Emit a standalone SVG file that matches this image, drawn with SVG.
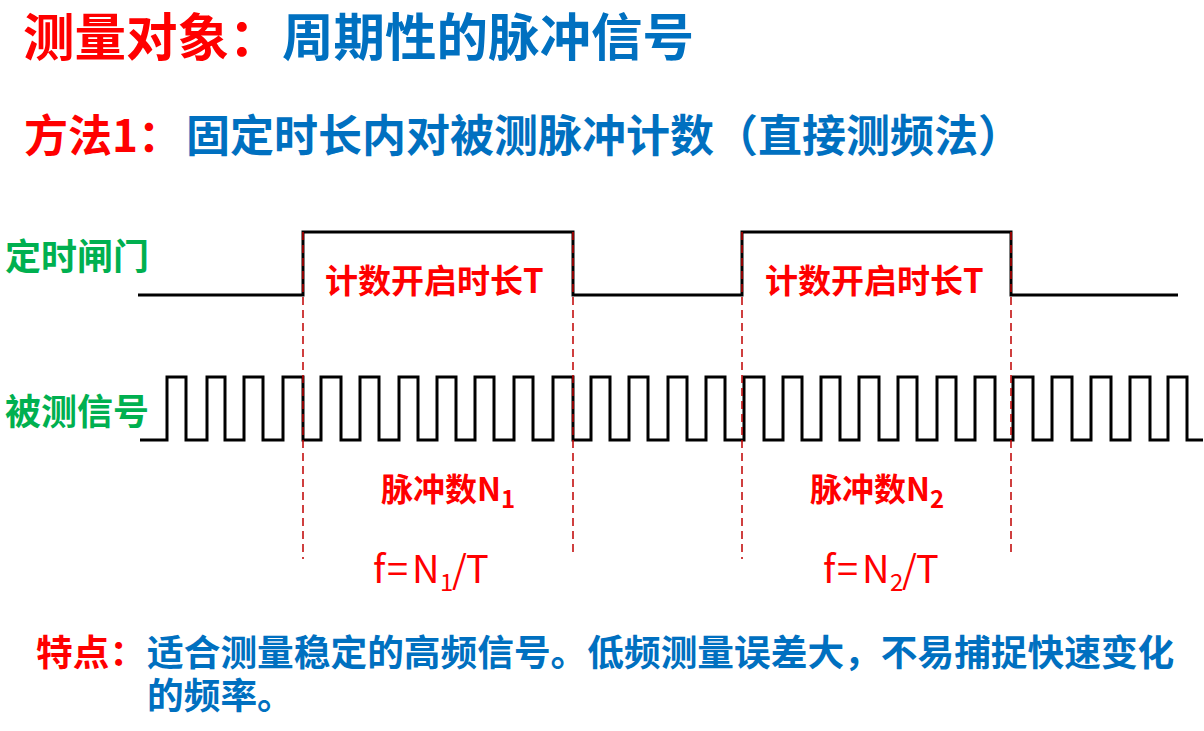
<svg xmlns="http://www.w3.org/2000/svg" width="1204" height="731" viewBox="0 0 1204 731">
<style>
text{font-family:"Noto Sans CJK SC","Noto Sans",sans-serif;font-weight:700}
.red{fill:#FF0000}
.blue{fill:#0070C0}
.green{fill:#00B050}
.reg{font-weight:400}
.wave{fill:none;stroke:#000;stroke-width:3;stroke-linejoin:miter}
.guide{fill:none;stroke:#C00000;stroke-width:1.5;stroke-dasharray:8 5}
</style>
<rect width="1204" height="731" fill="#FFFFFF"/>
<g id="title">
<text class="red" x="23" y="56" font-size="51.5">测量对象：</text>
<text class="blue" x="282" y="56" font-size="51.5">周期性的脉冲信号</text>
</g>
<g id="method">
<text class="red" x="24" y="152" font-size="44">方法1：</text>
<text class="blue" x="186" y="152" font-size="44">固定时长内对被测脉冲计数（直接测频法）</text>
</g>
<g id="gate">
<text class="green" x="5" y="270" font-size="36">定时闸门</text>
<path class="wave" d="M138,295 H303 V232 H573 V295 H742 V232 H1011 V295 H1178"/>
<text class="red" x="325" y="293" font-size="33">计数开启时长T</text>
<text class="red" x="765" y="293" font-size="33">计数开启时长T</text>
</g>
<g id="signal">
<text class="green" x="5" y="425" font-size="36">被测信号</text>
<path class="wave" d="M140,440 H167 V377 H186 V440 H207 V377 H225 V440 H244 V377 H263 V440 H283 V377 H303 V440 H321 V377 H341 V440 H360 V377 H379 V440 H399 V377 H418 V440 H437 V377 H456 V440 H475 V377 H494 V440 H514 V377 H533 V440 H553 V377 H573 V440 H591 V377 H610 V440 H629 V377 H648 V440 H668 V377 H687 V440 H706 V377 H725 V440 H744 V377 H764 V440 H783 V377 H802 V440 H821 V377 H840 V440 H859 V377 H879 V440 H898 V377 H917 V440 H937 V377 H956 V440 H975 V377 H995 V440 H1013 V377 H1033 V440 H1052 V377 H1072 V440 H1091 V377 H1111 V440 H1130 V377 H1150 V440 H1168 V377 H1187 V440 H1203"/>
</g>
<g id="guides">
<line class="guide" x1="303" y1="232" x2="303" y2="559"/>
<line class="guide" x1="573" y1="232" x2="573" y2="556"/>
<line class="guide" x1="742" y1="232" x2="742" y2="559"/>
<line class="guide" x1="1011" y1="232" x2="1011" y2="554"/>
</g>
<g id="count1">
<text class="red" x="381" y="501" font-size="32">脉冲数N</text>
<text class="red" x="501" y="508" font-size="24">1</text>
<text class="red reg" x="373 387 412" y="583" font-size="38">f=N</text>
<text class="red reg" x="440" y="591" font-size="24">1</text>
<text class="red reg" x="452 466" y="583" font-size="38">/T</text>
</g>
<g id="count2">
<text class="red" x="810" y="501" font-size="32">脉冲数N</text>
<text class="red" x="930" y="508" font-size="24">2</text>
<text class="red reg" x="823 837 862" y="583" font-size="38">f=N</text>
<text class="red reg" x="890" y="591" font-size="24">2</text>
<text class="red reg" x="902 916" y="583" font-size="38">/T</text>
</g>
<g id="feature">
<text class="red" x="36" y="666" font-size="36.7">特点：</text>
<text class="blue" x="147" y="666" font-size="36.7">适合测量稳定的高频信号。低频测量误差大，不易捕捉快速变化</text>
<text class="blue" x="147" y="709" font-size="36.7">的频率。</text>
</g>
</svg>
